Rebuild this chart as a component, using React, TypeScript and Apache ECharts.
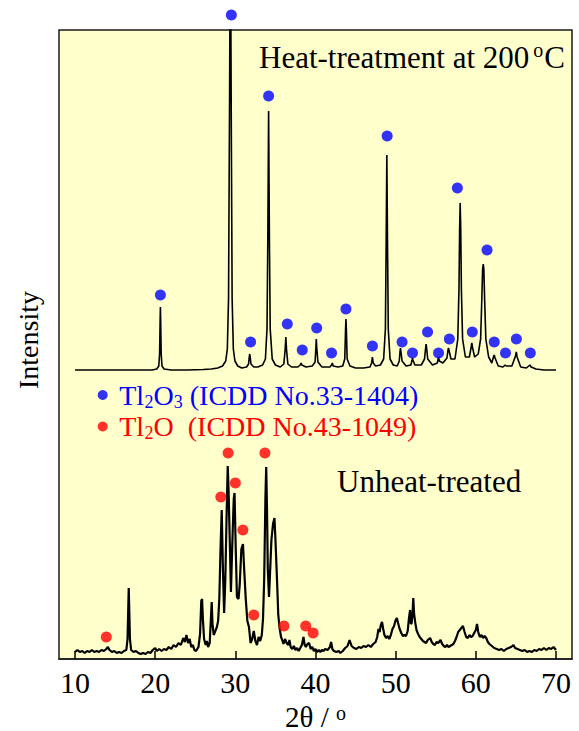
import React, { useEffect, useRef } from "react";
import * as echarts from "echarts";

const FONT = "'Liberation Serif', 'Times New Roman', serif";

// x-axis tick labels (2θ / °)
const X_TICKS = [10, 20, 30, 40, 50, 60, 70];

// Heat-treated at 200 °C pattern: [2θ, intensity (a.u.)]
const heatTreated: [number, number][] = [
  [10.0, 289], [12, 289], [14, 289], [16, 289], [18, 289], [19.6, 289],
  [20.2, 290], [20.45, 293], [20.55, 305], [20.62, 340], [20.65, 352], [20.68, 340], [20.75, 305], [20.85, 293], [21.1, 290],
  [22, 289], [24, 289], [26, 289.5], [27, 290], [27.8, 291], [28.4, 293], [28.8, 298], [29.0, 310],
  [29.15, 360], [29.28, 560], [29.38, 760], [29.48, 560], [29.6, 360], [29.75, 310], [29.95, 298],
  [30.3, 293], [30.8, 291], [31.4, 292], [31.65, 295], [31.75, 303], [31.8, 305], [31.85, 302], [31.95, 295],
  [32.3, 292], [32.8, 292], [33.4, 294], [33.75, 300], [33.95, 330], [34.05, 420], [34.15, 548], [34.25, 420], [34.35, 330], [34.6, 300],
  [35.0, 294], [35.6, 292], [36.05, 295], [36.22, 310], [36.3, 322], [36.38, 310], [36.55, 295],
  [37.0, 292], [37.8, 292], [38.1, 294], [38.2, 296], [38.3, 294], [38.8, 292],
  [39.6, 293], [39.95, 297], [40.05, 312], [40.1, 320], [40.15, 312], [40.3, 297], [40.8, 292],
  [41.8, 292], [42.0, 294], [42.1, 296], [42.2, 293], [42.8, 292],
  [43.4, 293], [43.65, 300], [43.75, 330], [43.8, 340], [43.85, 330], [43.95, 300], [44.3, 293],
  [45.0, 291], [46.0, 291], [46.8, 292], [47.0, 296], [47.1, 302], [47.2, 296], [47.5, 293],
  [48.1, 294], [48.5, 300], [48.72, 330], [48.82, 420], [48.9, 504], [48.98, 420], [49.08, 330], [49.3, 300], [49.7, 294],
  [50.2, 293], [50.45, 298], [50.55, 308], [50.6, 311], [50.65, 308], [50.8, 298], [51.3, 293],
  [51.9, 294], [52.05, 299], [52.1, 301], [52.15, 299], [52.4, 294],
  [53.2, 294], [53.6, 300], [53.75, 312], [53.8, 315], [53.85, 312], [54.0, 300], [54.6, 294],
  [55.2, 296], [55.35, 302], [55.45, 298], [55.9, 296],
  [56.4, 301], [56.55, 310], [56.6, 311], [56.65, 309], [56.9, 300],
  [57.4, 300], [57.75, 320], [57.9, 370], [57.98, 430], [58.05, 456], [58.12, 430], [58.2, 370], [58.35, 320], [58.7, 302],
  [59.2, 302], [59.42, 312], [59.5, 316], [59.58, 312], [59.85, 302],
  [60.3, 305], [60.6, 320], [60.75, 360], [60.85, 390], [60.93, 395], [61.0, 390], [61.1, 360], [61.25, 320], [61.6, 302],
  [62.0, 296], [62.2, 302], [62.3, 304], [62.4, 301], [62.8, 293],
  [63.4, 292], [63.65, 294], [63.7, 294], [63.8, 293], [64.5, 293],
  [64.95, 303], [65.05, 307], [65.15, 302], [65.6, 292],
  [66.3, 291], [66.75, 294], [66.8, 294], [66.9, 292], [67.5, 290], [68.5, 289], [70.0, 289],
];

// Unheat-treated pattern: [2θ, intensity (a.u.)]
const unheated: [number, number][] = [
  [10.0, 7], [10.3, 9], [10.6, 7], [10.9, 8], [11.2, 6], [11.5, 8], [11.8, 7], [12.1, 9], [12.4, 7], [12.7, 8],
  [13.0, 7], [13.3, 9], [13.6, 8], [13.9, 10], [14.1, 12], [14.3, 9], [14.6, 7], [14.9, 8], [15.2, 6], [15.5, 7],
  [15.8, 6], [16.1, 8], [16.4, 9], [16.55, 20], [16.7, 71], [16.85, 20], [17.0, 9], [17.3, 7], [17.6, 8], [17.9, 6],
  [18.2, 5], [18.5, 6], [18.8, 5], [19.1, 7], [19.4, 6], [19.7, 9], [20.0, 11], [20.2, 8], [20.5, 10], [20.8, 8],
  [21.1, 10], [21.4, 9], [21.7, 12], [22.0, 10], [22.3, 14], [22.6, 12], [22.9, 16], [23.2, 14], [23.5, 21], [23.7, 17],
  [23.9, 24], [24.1, 16], [24.3, 20], [24.5, 12], [24.7, 14], [24.9, 9], [25.1, 8], [25.4, 12], [25.6, 25], [25.75, 58],
  [25.85, 60], [25.95, 40], [26.1, 20], [26.3, 14], [26.45, 18], [26.6, 12], [26.8, 16], [26.95, 40], [27.05, 57], [27.15, 35],
  [27.3, 24], [27.5, 28], [27.7, 32], [27.85, 38], [28.0, 60], [28.15, 110], [28.3, 149], [28.45, 90], [28.6, 46], [28.75, 80],
  [28.9, 140], [29.05, 193], [29.15, 170], [29.3, 120], [29.45, 67], [29.6, 110], [29.8, 160], [29.9, 166], [30.05, 110], [30.2, 62],
  [30.4, 60], [30.55, 75], [30.75, 110], [30.95, 115], [31.1, 90], [31.3, 60], [31.5, 38], [31.7, 32], [31.9, 16], [32.1, 20],
  [32.3, 28], [32.5, 18], [32.7, 14], [32.9, 22], [33.1, 18], [33.3, 24], [33.45, 40], [33.6, 80], [33.75, 160], [33.85, 192],
  [33.95, 150], [34.05, 90], [34.2, 62], [34.35, 90], [34.5, 119], [34.7, 135], [34.88, 141], [35.0, 120], [35.2, 79], [35.35, 45],
  [35.5, 32], [35.7, 22], [35.85, 19], [36.0, 15], [36.2, 20], [36.4, 16], [36.6, 14], [36.75, 19], [36.9, 12], [37.1, 10],
  [37.3, 13], [37.5, 9], [37.7, 11], [37.9, 8], [38.1, 11], [38.3, 14], [38.5, 22], [38.65, 14], [38.8, 12], [39.0, 15],
  [39.2, 16], [39.4, 10], [39.6, 12], [39.8, 8], [40.0, 10], [40.2, 7], [40.4, 9], [40.6, 7], [40.8, 9], [41.0, 8],
  [41.2, 10], [41.5, 9], [41.8, 12], [41.95, 17], [42.1, 10], [42.3, 8], [42.6, 7], [42.9, 8], [43.1, 6], [43.4, 8],
  [43.7, 11], [44.0, 13], [44.25, 19], [44.5, 13], [44.8, 11], [45.1, 10], [45.4, 12], [45.7, 11], [46.0, 13], [46.3, 12],
  [46.6, 14], [46.9, 12], [47.2, 15], [47.5, 17], [47.7, 22], [47.85, 30], [48.0, 27], [48.15, 34], [48.3, 37], [48.45, 30],
  [48.6, 24], [48.8, 21], [49.0, 23], [49.2, 20], [49.4, 24], [49.6, 30], [49.8, 33], [50.0, 39], [50.15, 41], [50.3, 36],
  [50.5, 30], [50.7, 26], [50.9, 23], [51.1, 24], [51.3, 23], [51.5, 28], [51.65, 40], [51.8, 49], [51.9, 35], [52.0, 36],
  [52.1, 45], [52.2, 61], [52.3, 45], [52.45, 36], [52.6, 29], [52.8, 25], [53.0, 22], [53.2, 20], [53.4, 18], [53.6, 17],
  [53.8, 16], [54.0, 19], [54.3, 21], [54.5, 17], [54.7, 15], [54.9, 14], [55.1, 17], [55.3, 16], [55.6, 19], [55.8, 15],
  [56.0, 13], [56.2, 12], [56.4, 14], [56.6, 12], [56.8, 13], [57.0, 14], [57.2, 15], [57.4, 18], [57.6, 22], [57.8, 27],
  [58.0, 29], [58.2, 31], [58.4, 33], [58.6, 27], [58.8, 22], [59.0, 21], [59.2, 24], [59.4, 22], [59.6, 23], [59.8, 26],
  [60.0, 29], [60.15, 35], [60.3, 27], [60.5, 22], [60.7, 24], [60.9, 21], [61.1, 23], [61.3, 21], [61.5, 17], [61.7, 15],
  [62.0, 13], [62.3, 11], [62.6, 10], [62.9, 9], [63.2, 10], [63.5, 8], [63.8, 10], [64.1, 11], [64.4, 12], [64.7, 14],
  [64.9, 11], [65.2, 10], [65.5, 9], [65.8, 8], [66.1, 9], [66.4, 7], [66.7, 8], [67.0, 7], [67.3, 9], [67.6, 8],
  [67.9, 10], [68.2, 9], [68.5, 11], [68.8, 9], [69.1, 11], [69.4, 10], [69.7, 12], [70.0, 9],
];

// Tl2O3 (ICDD No.33-1404) peak markers
const tl2o3Marks: [number, number][] = [
  [20.65, 364], [29.5, 644], [31.9, 317], [34.15, 563], [36.48, 335], [38.35, 309], [40.15, 331], [42.0, 306],
  [43.8, 350], [47.1, 313], [48.94, 523], [50.8, 317], [52.1, 306], [53.98, 327], [55.35, 306], [56.7, 320],
  [57.7, 471], [59.56, 327], [61.4, 409], [62.3, 317], [63.7, 306], [65.06, 320], [66.8, 306],
];

// Tl2O (ICDD No.43-1049) peak markers
const tl2oMarks: [number, number][] = [
  [13.9, 22], [28.19, 162], [29.1, 206], [30.0, 176], [30.94, 129], [32.3, 44], [33.69, 206], [36.06, 33],
  [38.78, 33], [39.7, 26],
];

const NAME_TL2O3 = "Tl2O3 (ICDD No.33-1404)";
const NAME_TL2O = "Tl2O  (ICDD No.43-1049)";
const BLUE = "#0000FF";
const RED = "#FF0000";

export default function App() {
  const ref = useRef<HTMLDivElement>(null);
  useEffect(() => {
    if (!ref.current) return;
    const chart = echarts.init(ref.current, null, { renderer: "svg" });
    chart.setOption({
      animation: false,
      grid: {
        left: 59, right: 7, top: 30, bottom: 72, show: true,
        outerBoundsMode: "none", containLabel: false,
        backgroundColor: "#FFFFCC", borderColor: "#1a1a1a", borderWidth: 1.5,
      },
      xAxis: {
        type: "value", min: 8, max: 72,
        splitLine: { show: false },
        axisLine: { show: true, lineStyle: { color: "#1a1a1a", width: 1.5 } },
        axisTick: { show: true, inside: true, length: 8, customValues: X_TICKS, lineStyle: { color: "#000", width: 1.5 } },
        axisLabel: { customValues: X_TICKS, fontSize: 30, fontFamily: FONT, color: "#000", margin: 8 },
        name: "{m|2θ / }{s|o}",
        nameLocation: "middle",
        nameGap: 44,
        nameTextStyle: {
          fontFamily: FONT, fontSize: 29, color: "#000",
          rich: {
            m: { fontFamily: FONT, fontSize: 29, color: "#000", lineHeight: 27 },
            s: { fontFamily: FONT, fontSize: 20, color: "#000", lineHeight: 16, verticalAlign: "top" },
          },
        },
      },
      yAxis: { type: "value", min: 0, max: 629, show: false },
      legend: {
        orient: "vertical", left: 97.7, top: 381, padding: 0,
        itemWidth: 10, itemHeight: 10, itemGap: 2, icon: "circle", selectedMode: false,
        data: [{ name: NAME_TL2O3 }, { name: NAME_TL2O }],
        formatter: (name: string) =>
          name === NAME_TL2O3
            ? "{ba| Tl}{bs|2}{ba|O}{bs|3}{ba| (ICDD No.33-1404)}"
            : "{ra| Tl}{rs|2}{ra|O  (ICDD No.43-1049)}",
        textStyle: {
          fontFamily: FONT, fontSize: 28,
          rich: {
            ba: { fontFamily: FONT, fontSize: 28, color: BLUE, lineHeight: 31 },
            bs: { fontFamily: FONT, fontSize: 18, color: BLUE, lineHeight: 18, verticalAlign: "bottom" },
            ra: { fontFamily: FONT, fontSize: 28, color: RED, lineHeight: 31 },
            rs: { fontFamily: FONT, fontSize: 18, color: RED, lineHeight: 18, verticalAlign: "bottom" },
          },
        },
      },
      graphic: [
        {
          type: "text", x: 259, y: 57,
          style: {
            text: "{m|Heat-treatment at 200}{s|o}{m|C}",
            align: "left", verticalAlign: "middle",
            rich: {
              m: { fontFamily: FONT, fontSize: 31, fill: "#000", lineHeight: 34 },
              s: { fontFamily: FONT, fontSize: 20, fill: "#000", lineHeight: 20, verticalAlign: "top", padding: [0, 1, 0, 4] },
            },
          },
        },
        {
          type: "text", x: 337, y: 481,
          style: { text: "Unheat-treated", fontFamily: FONT, fontSize: 31, fill: "#000", align: "left", verticalAlign: "middle" },
        },
        {
          type: "text", x: 28, y: 340, rotation: Math.PI / 2,
          style: { text: "Intensity", fontFamily: FONT, fontSize: 28, fill: "#000", align: "center", verticalAlign: "middle" },
        },
      ],
      series: [
        {
          name: "Heat-treatment at 200 °C", type: "line", data: heatTreated,
          symbol: "none", showSymbol: false, clip: true,
          lineStyle: { color: "#000", width: 1.6 }, itemStyle: { color: "#000" }, z: 2,
        },
        {
          name: "Unheat-treated", type: "line", data: unheated,
          symbol: "none", showSymbol: false, clip: true,
          lineStyle: { color: "#000", width: 2.2 }, itemStyle: { color: "#000" }, z: 2,
        },
        {
          name: NAME_TL2O3, type: "scatter", data: tl2o3Marks, symbol: "circle", symbolSize: 11,
          clip: false, itemStyle: { color: BLUE }, z: 3,
        },
        {
          name: NAME_TL2O, type: "scatter", data: tl2oMarks, symbol: "circle", symbolSize: 11,
          clip: false, itemStyle: { color: RED }, z: 3,
        },
      ],
    });
    return () => chart.dispose();
  }, []);
  return (
    <div
      ref={ref}
      style={{ position: "absolute", left: 0, top: 0, width: 579, height: 731 }}
    />
  );
}
